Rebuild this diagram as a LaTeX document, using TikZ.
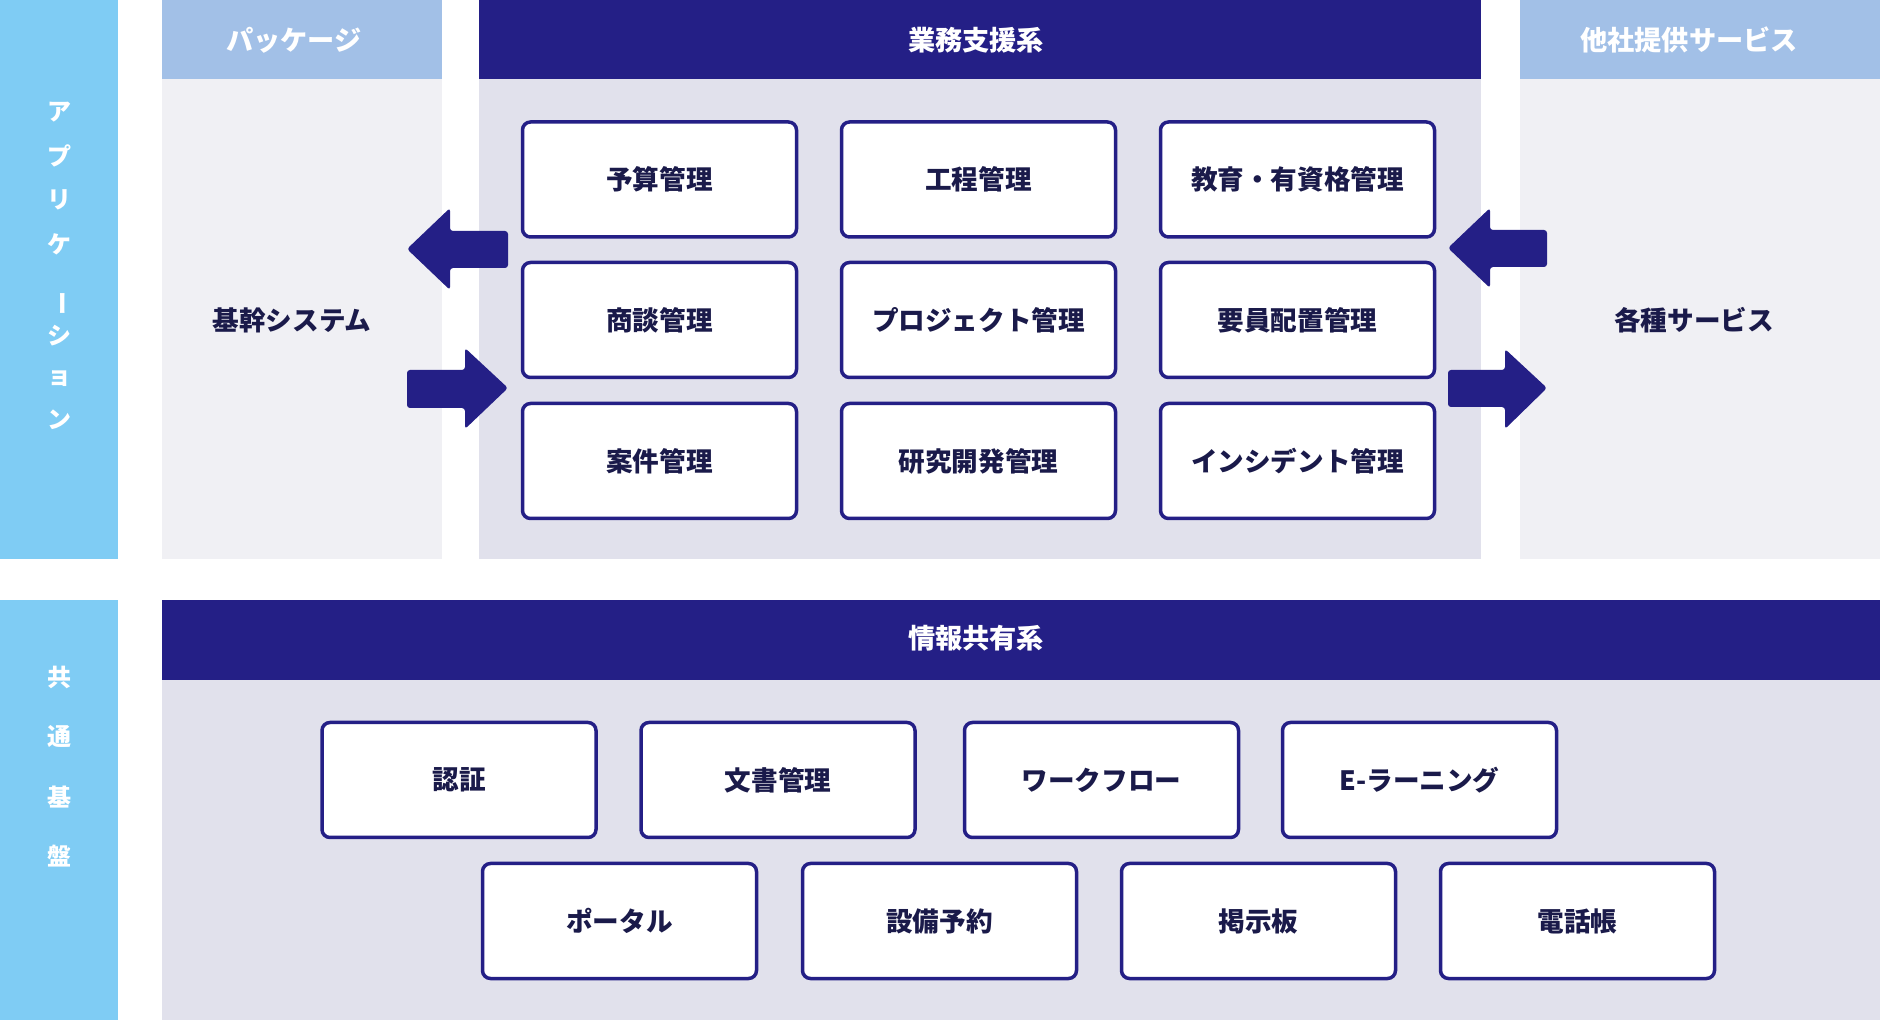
\documentclass[tikz,border=0pt]{standalone}
\usepackage{fontspec}
\setmainfont{Noto Sans CJK JP}
\definecolor{barblue}{HTML}{7FCCF4}
\definecolor{hdrblue}{HTML}{A2C0E7}
\definecolor{navy}{HTML}{241F86}
\definecolor{pane}{HTML}{F0F0F4}
\definecolor{panelgray}{HTML}{E1E1EC}
\definecolor{txt}{HTML}{1A1A4A}
\begin{document}
\begin{tikzpicture}[x=0.5pt,y=-0.5pt,
  box/.style={draw=navy, line width=1.75pt, fill=white, rounded corners=4pt,
    minimum width=137pt, minimum height=57.5pt, inner sep=0pt,
    font=\bfseries\fontsize{13.3}{15}\selectfont, text=txt},
  hdr/.style={font=\bfseries\fontsize{13.6}{15}\selectfont, text=white, inner sep=0pt},
  plain/.style={font=\bfseries\fontsize{13.3}{15}\selectfont, text=txt, inner sep=0pt},
  vtxt/.style={font=\bfseries\fontsize{12}{14}\selectfont, text=white, inner sep=0pt},
  bigarrow/.style={fill=navy, rounded corners=1.5pt}]
\useasboundingbox (0,0) rectangle (1880,1020);
\fill[white] (0,0) rectangle (1880,1020);
% side bars
\fill[barblue] (0,0) rectangle (118,559);
\fill[barblue] (0,600) rectangle (118,1020);
% upper panes
\fill[hdrblue] (162,0) rectangle (442,79);
\fill[pane] (162,79) rectangle (442,559);
\fill[navy] (479,0) rectangle (1481,79);
\fill[panelgray] (479,79) rectangle (1481,559);
\fill[hdrblue] (1520,0) rectangle (1880,79);
\fill[pane] (1520,79) rectangle (1880,559);
% lower pane
\fill[navy] (162,600) rectangle (1880,680);
\fill[panelgray] (162,680) rectangle (1880,1020);
% headers
\node[hdr] (hpkg) at (294,40) {パッケージ};
\node[hdr] (hbiz) at (976,40) {業務支援系};
\node[hdr] (hoth) at (1689,40) {他社提供サービス};
\node[hdr] (hinfo) at (976,638) {情報共有系};
\node[plain] (core) at (292,320) {基幹システム};
\node[plain] (svc) at (1694,320) {各種サービス};
% vertical labels
\node[vtxt] (v1) at (59,112) {ア};
\node[vtxt] (v2) at (59,156) {プ};
\node[vtxt] (v3) at (59,200) {リ};
\node[vtxt] (v4) at (59,244) {ケ};
\node[vtxt,rotate=-90] (v5) at (59,304) {ー};
\node[vtxt] (v6) at (59,336) {シ};
\node[vtxt] (v7) at (59,379) {ョ};
\node[vtxt] (v8) at (59,420) {ン};
\node[vtxt] (w1) at (59,677) {共};
\node[vtxt] (w2) at (59,737) {通};
\node[vtxt] (w3) at (59,797) {基};
\node[vtxt] (w4) at (59,856) {盤};
% upper boxes
\node[box] (b11) at (659.5,179.5) {予算管理};
\node[box] (b12) at (978.5,179.5) {工程管理};
\node[box] (b13) at (1297.5,179.5) {教育・有資格管理};
\node[box] (b21) at (659.5,320) {商談管理};
\node[box] (b22) at (978.5,320) {プロジェクト管理};
\node[box] (b23) at (1297.5,320) {要員配置管理};
\node[box] (b31) at (659.5,461) {案件管理};
\node[box] (b32) at (978.5,461) {研究開発管理};
\node[box] (b33) at (1297.5,461) {インシデント管理};
% lower boxes
\node[box] (c1) at (459,780) {認証};
\node[box] (c2) at (778,780) {文書管理};
\node[box] (c3) at (1101.5,780) {ワークフロー};
\node[box] (c4) at (1419.5,780) {E-ラーニング};
\node[box] (d1) at (619.5,921) {ポータル};
\node[box] (d2) at (939.5,921) {設備予約};
\node[box] (d3) at (1258.5,921) {掲示板};
\node[box] (d4) at (1577.5,921) {電話帳};
% arrows
\fill[bigarrow] (407,249) -- (450,208) -- (450,231) -- (508,231) -- (508,268) -- (450,268) -- (450,290) -- cycle;
\fill[bigarrow] (508,388) -- (465,348) -- (465,370) -- (407,370) -- (407,408) -- (465,408) -- (465,429) -- cycle;
\fill[bigarrow] (1448,248) -- (1490,208) -- (1490,230) -- (1547,230) -- (1547,267) -- (1490,267) -- (1490,288) -- cycle;
\fill[bigarrow] (1547,388) -- (1505,349) -- (1505,370) -- (1448,370) -- (1448,407) -- (1505,407) -- (1505,429) -- cycle;
\end{tikzpicture}
\end{document}
